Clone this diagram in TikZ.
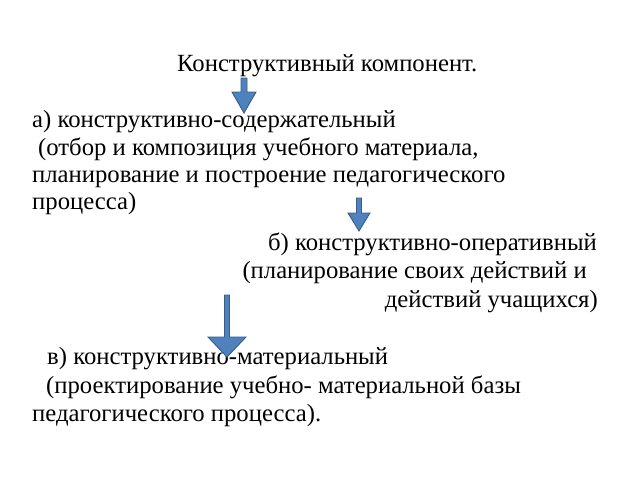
\documentclass[tikz,border=0pt]{standalone}
\usepackage{fontspec}
\setmainfont{Liberation Serif}
\usepackage{tikz}
\usepackage{xcolor}
\usetikzlibrary{calc}
\usetikzlibrary{positioning}

\definecolor{arrowFill}{RGB}{79,129,189}
\definecolor{arrowLine}{RGB}{56,93,138}

\begin{document}
\begin{tikzpicture} [x=1pt, y=-1pt]
            % Set primary nodes
            \tikzset{
                lineNode/.style={
                        inner sep=0pt,
                        anchor=base west,
                        font=\fontsize{24.7}{28}\selectfont
                    }
            }
            \tikzset{
                rightNode/.style={
                        lineNode,
                        anchor=base east
                    }
            }
            \tikzset{
                blockArrow/.style={
                        fill=arrowFill,
                        draw=arrowLine,
                        line width=0.9pt,
                        line join=miter
                    }
            }
            \useasboundingbox[fill=white] (0,0) rectangle (640,480);
            % Placing nodes
            \node[lineNode](title) at (177,71){Конструктивный компонент.};
            \node[lineNode](contentA) at (32,127){а) конструктивно-содержательный};
            \node[lineNode](contentB) at (38,155){(отбор и композиция учебного материала,};
            \node[lineNode](contentC) at (32,182){планирование и построение педагогического};
            \node[lineNode](contentD) at (32,209){процесса)};
            \node[rightNode](operA) at (597,250){б) конструктивно-оперативный};
            \node[rightNode](operB) at (587,278){(планирование своих действий и};
            \node[rightNode](operC) at (598,307){действий учащихся)};
            \node[lineNode](matA) at (47,364){в) конструктивно-материальный};
            \node[lineNode](matB) at (46,393){(проектирование учебно- материальной базы};
            \node[lineNode](matC) at (32,421){педагогического процесса).};
            % Draw arrows
            \draw[blockArrow] (241,78) -- (247,78) -- (247,92) -- (256,92) -- (244,113) -- (232,92) -- (241,92) -- cycle;
            \draw[blockArrow] (356.5,198) -- (361.5,198) -- (361.5,213) -- (370,213) -- (359,231) -- (348,213) -- (356.5,213) -- cycle;
            \draw[blockArrow] (224.5,295) -- (229.5,295) -- (229.5,337) -- (246,337) -- (227,357) -- (208,337) -- (224.5,337) -- cycle;
        \end{tikzpicture}
\end{document}
